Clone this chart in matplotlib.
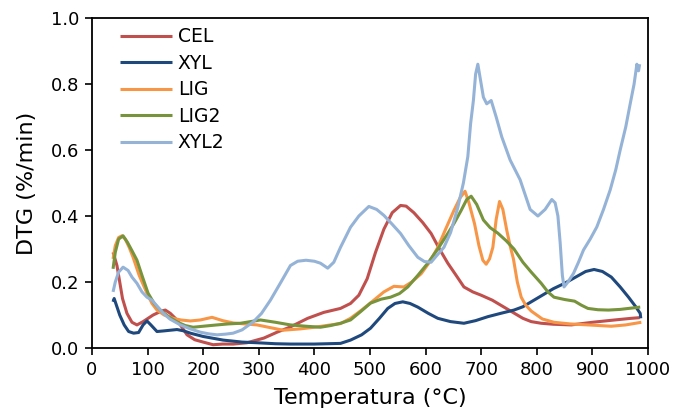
import matplotlib
matplotlib.use("Agg")
import matplotlib.pyplot as plt

# DTG curves, temperature (°C) vs mass-loss rate (%/min)
cel_t = [38, 45, 55, 63, 72, 81, 92, 110, 125, 132, 141, 150, 159, 171, 185, 200, 218, 235, 254, 279,
         309, 333, 357, 388, 417, 447, 465, 480, 495, 510, 525, 540, 555, 565, 579, 595, 610, 625, 640,
         655, 669, 685, 700, 720, 741, 760, 775, 790, 808, 830, 862, 900, 940, 970, 985]
cel_v = [0.29, 0.25, 0.15, 0.105, 0.078, 0.07, 0.08, 0.1, 0.112, 0.115, 0.105, 0.09, 0.07, 0.04, 0.025,
         0.018, 0.01, 0.012, 0.012, 0.016, 0.03, 0.048, 0.064, 0.09, 0.108, 0.12, 0.135, 0.16, 0.21, 0.29,
         0.36, 0.41, 0.432, 0.43, 0.41, 0.38, 0.347, 0.30, 0.257, 0.22, 0.185, 0.17, 0.16, 0.145, 0.124,
         0.105, 0.09, 0.08, 0.075, 0.072, 0.07, 0.078, 0.085, 0.09, 0.092]

xyl_t = [38, 40, 44, 50, 58, 66, 75, 84, 92, 99, 106, 117, 130, 153, 165, 177, 200, 236, 270, 297, 330,
         357, 400, 447, 465, 485, 501, 517, 532, 545, 559, 572, 586, 605, 622, 645, 669, 690, 712, 735,
         759, 775, 790, 810, 830, 850, 870, 888, 903, 918, 934, 950, 965, 978, 986, 987]
xyl_v = [0.14, 0.15, 0.13, 0.1, 0.07, 0.05, 0.045, 0.047, 0.07, 0.082, 0.07, 0.05, 0.052, 0.056, 0.052,
         0.045, 0.035, 0.024, 0.018, 0.016, 0.013, 0.012, 0.012, 0.014, 0.024, 0.04, 0.06, 0.09, 0.12,
         0.135, 0.14, 0.135, 0.124, 0.105, 0.09, 0.08, 0.075, 0.083, 0.095, 0.105, 0.115, 0.125, 0.14,
         0.16, 0.18, 0.196, 0.215, 0.232, 0.238, 0.232, 0.215, 0.185, 0.154, 0.125, 0.105, 0.09]

lig_t = [38, 42, 48, 54, 60, 67, 74, 85, 99, 108, 117, 130, 146, 160, 177, 195, 216, 235, 254, 275, 297,
         320, 344, 375, 405, 429, 447, 465, 485, 507, 525, 543, 561, 575, 592, 607, 622, 636, 651, 662,
         671, 678, 688, 696, 703, 709, 715, 721, 727, 733, 739, 746, 752, 758, 765, 772, 780, 790, 810,
         831, 860, 892, 934, 960, 988]
lig_v = [0.27, 0.31, 0.335, 0.34, 0.33, 0.305, 0.275, 0.22, 0.166, 0.135, 0.115, 0.1, 0.09, 0.085, 0.082,
         0.085, 0.093, 0.083, 0.076, 0.073, 0.07, 0.062, 0.054, 0.058, 0.064, 0.07, 0.074, 0.09, 0.115,
         0.145, 0.17, 0.187, 0.185, 0.2, 0.225, 0.26, 0.305, 0.36, 0.417, 0.455, 0.475, 0.44, 0.377, 0.31,
         0.266, 0.254, 0.27, 0.305, 0.39, 0.444, 0.42, 0.357, 0.31, 0.27, 0.2, 0.154, 0.13, 0.112, 0.088,
         0.078, 0.073, 0.07, 0.066, 0.07, 0.078]

lig2_t = [38, 42, 48, 56, 64, 72, 81, 90, 101, 112, 123, 138, 153, 168, 182, 200, 225, 245, 267, 285, 303,
          330, 357, 385, 411, 429, 447, 465, 483, 501, 520, 537, 553, 568, 586, 604, 622, 640, 652, 664,
          674, 682, 692, 704, 716, 730, 745, 759, 775, 790, 808, 820, 831, 850, 868, 880, 892, 910, 929,
          950, 965, 986]
lig2_v = [0.24, 0.29, 0.33, 0.34, 0.32, 0.295, 0.266, 0.22, 0.166, 0.135, 0.115, 0.095, 0.079, 0.068,
          0.063, 0.066, 0.07, 0.073, 0.075, 0.08, 0.085, 0.078, 0.07, 0.066, 0.063, 0.068, 0.075, 0.085,
          0.11, 0.136, 0.148, 0.154, 0.165, 0.185, 0.22, 0.257, 0.3, 0.347, 0.38, 0.417, 0.45, 0.46, 0.435,
          0.388, 0.365, 0.348, 0.325, 0.3, 0.26, 0.23, 0.196, 0.17, 0.154, 0.147, 0.142, 0.13, 0.12, 0.116,
          0.115, 0.117, 0.12, 0.124]

xyl2_t = [38, 42, 48, 56, 65, 72, 81, 90, 99, 108, 118, 128, 140, 159, 177, 195, 210, 225, 240, 254, 270,
          290, 305, 321, 340, 357, 370, 385, 400, 411, 424, 435, 447, 465, 480, 498, 512, 525, 540, 555,
          570, 586, 598, 610, 620, 633, 645, 658, 668, 676, 681, 686, 690, 694, 698, 704, 710, 718, 727,
          737, 752, 770, 780, 788, 802, 815, 827, 833, 838, 842, 846, 849, 856, 866, 875, 884, 896, 908,
          920, 932, 942, 950, 960, 968, 975, 980, 983, 985]
xyl2_v = [0.17, 0.2, 0.23, 0.245, 0.235, 0.215, 0.196, 0.17, 0.154, 0.145, 0.125, 0.106, 0.088, 0.07,
          0.058, 0.048, 0.043, 0.04, 0.042, 0.045, 0.055, 0.079, 0.105, 0.145, 0.2, 0.25, 0.263, 0.266,
          0.263, 0.257, 0.242, 0.26, 0.305, 0.366, 0.4, 0.429, 0.42, 0.402, 0.375, 0.347, 0.31, 0.275,
          0.262, 0.26, 0.28, 0.305, 0.35, 0.426, 0.5, 0.58, 0.68, 0.75, 0.83, 0.86, 0.82, 0.76, 0.74, 0.75,
          0.7, 0.64, 0.57, 0.51, 0.46, 0.42, 0.40, 0.42, 0.45, 0.44, 0.40, 0.32, 0.22, 0.185, 0.2, 0.226,
          0.26, 0.297, 0.33, 0.367, 0.42, 0.479, 0.54, 0.6, 0.67, 0.74, 0.8, 0.86, 0.84, 0.86]

series = [
    ("CEL", cel_t, cel_v, "#C0504D"),
    ("XYL", xyl_t, xyl_v, "#1F497D"),
    ("LIG", lig_t, lig_v, "#F79646"),
    ("LIG2", lig2_t, lig2_v, "#77933C"),
    ("XYL2", xyl2_t, xyl2_v, "#95B3D7"),
]

plt.rcParams["font.family"] = "DejaVu Sans"

fig = plt.figure(figsize=(6.86, 4.15), dpi=100)
ax = fig.add_axes([0.134, 0.1614, 0.8106, 0.7952])

for name, t, v, c in series:
    ax.plot(t, v, color=c, lw=2.2, label=name, solid_capstyle="butt")

ax.set_xlim(0, 1000)
ax.set_ylim(0, 1.0)
ax.set_xticks(range(0, 1001, 100))
ax.set_yticks([0, 0.2, 0.4, 0.6, 0.8, 1.0])
ax.set_yticklabels(["0.0", "0.2", "0.4", "0.6", "0.8", "1.0"])
ax.tick_params(direction="out", length=5, width=1.2, labelsize=13, pad=4)
for s in ax.spines.values():
    s.set_linewidth(1.3)

ax.set_xlabel("Temperatura (°C)", fontsize=16, labelpad=7)
ax.set_ylabel("DTG (%/min)", fontsize=16, labelpad=10)

ax.legend(loc="upper left", bbox_to_anchor=(0.026, 1.012), frameon=False, fontsize=13.5,
          handlelength=2.8, handletextpad=0.3, labelspacing=0.4, borderaxespad=0.3)

fig.savefig("out.png", dpi=100)
